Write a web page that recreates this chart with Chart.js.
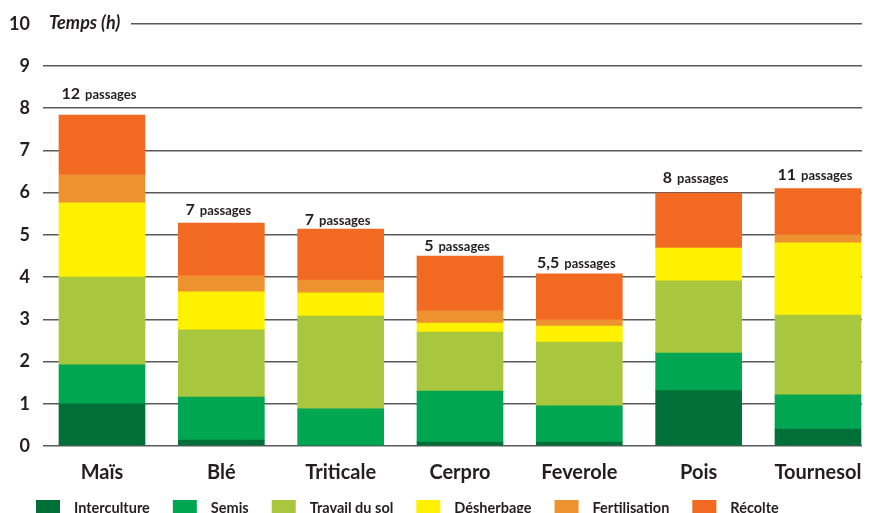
<!DOCTYPE html>
<html lang="fr">
<head>
<meta charset="utf-8">
<title>Temps de travail par culture</title>
<script src="https://cdn.jsdelivr.net/npm/chart.js@4.4.1/dist/chart.umd.min.js"></script>
<style>
  html, body { margin: 0; padding: 0; background: #ffffff; overflow: hidden; }
  #wrap { position: relative; width: 870px; height: 513px; }
</style>
</head>
<body>
<div id="wrap"><canvas id="chart" width="870" height="513"></canvas></div>
<script>
// Cultures (axe des abscisses)
const cultures = ['Maïs', 'Blé', 'Triticale', 'Cerpro', 'Feverole', 'Pois', 'Tournesol'];

// Temps par poste de travail (heures)
const interculture  = [1.00, 0.14, 0.00, 0.09, 0.09, 1.31, 0.40];
const semis         = [0.92, 1.02, 0.88, 1.21, 0.86, 0.89, 0.81];
const travailDuSol  = [2.08, 1.59, 2.20, 1.40, 1.51, 1.71, 1.89];
const desherbage    = [1.76, 0.90, 0.55, 0.21, 0.38, 0.78, 1.71];
const fertilisation = [0.66, 0.38, 0.30, 0.29, 0.15, 0.00, 0.19];
const recolte       = [1.42, 1.25, 1.21, 1.30, 1.09, 1.30, 1.10];

// Nombre de passages par culture
const passages = ['12', '7', '7', '5', '5,5', '8', '11'];

// Graduations de l'axe des temps
const yTicks = [0, 1, 2, 3, 4, 5, 6, 7, 8, 9, 10];

const series = [
  { label: 'Interculture',  values: interculture,  color: '#007038' },
  { label: 'Semis',         values: semis,         color: '#00a651' },
  { label: 'Travail du sol',values: travailDuSol,  color: '#a8c73f' },
  { label: 'Désherbage',    values: desherbage,    color: '#fff100' },
  { label: 'Fertilisation', values: fertilisation, color: '#ee922f' },
  { label: 'Récolte',       values: recolte,       color: '#f26922' }
];

const FONT = 'Lato, "Open Sans", "DejaVu Sans", sans-serif';
const TEXT = '#231f20';

// Écart vertical (px) entre le haut de chaque barre et son étiquette
const passageLabelGap = [16, 8, 4, 5, 6, 10, 8];

// Étiquettes « N passages » au-dessus de chaque barre
const passagesPlugin = {
  id: 'passages',
  afterDatasetsDraw(chart) {
    const ctx = chart.ctx;
    const topMeta = chart.getDatasetMeta(chart.data.datasets.length - 1);
    ctx.save();
    ctx.fillStyle = TEXT;
    ctx.textBaseline = 'alphabetic';
    ctx.textAlign = 'left';
    topMeta.data.forEach((bar, i) => {
      const num = passages[i];
      ctx.font = 'bold 16px ' + FONT;
      const wNum = ctx.measureText(num).width;
      ctx.font = 'bold 13px ' + FONT;
      const wTxt = ctx.measureText('passages').width;
      const gap = 5;
      const total = wNum + gap + wTxt;
      const x0 = bar.x - 3 - total / 2;
      const y = bar.y - passageLabelGap[i];
      ctx.font = 'bold 16px ' + FONT;
      ctx.fillText(num, x0, y);
      ctx.font = 'bold 13px ' + FONT;
      ctx.fillText('passages', x0 + wNum + gap, y);
    });
    ctx.restore();
  }
};

// Titre d'axe « Temps (h) » posé sur la ligne du haut, et légende en bas
const decorPlugin = {
  id: 'decor',
  afterDraw(chart) {
    const ctx = chart.ctx;
    const area = chart.chartArea;
    const yTop = chart.scales.y.getPixelForValue(10);
    ctx.save();
    ctx.fillStyle = '#ffffff';
    ctx.fillRect(area.left - 2, yTop - 4, 90, 8);
    ctx.fillStyle = TEXT;
    ctx.font = 'italic bold 18px ' + FONT;
    ctx.textBaseline = 'alphabetic';
    ctx.textAlign = 'left';
    ctx.fillText('Temps (h)', 49, yTop + 5);

    // Légende
    let x = 36;
    const boxTop = 500;
    ctx.font = 'bold 14.5px ' + FONT;
    chart.data.datasets.forEach(ds => {
      ctx.fillStyle = ds.backgroundColor;
      ctx.fillRect(x, boxTop, 24, 22);
      x += 24 + 14;
      ctx.fillStyle = TEXT;
      ctx.fillText(ds.label, x, 513);
      x += ctx.measureText(ds.label).width + 23;
    });
    ctx.restore();
  }
};

new Chart(document.getElementById('chart'), {
  type: 'bar',
  data: {
    datasets: series.map(s => ({
      label: s.label,
      data: s.values.map((v, i) => ({ x: i, y: v })),
      backgroundColor: s.color,
      borderWidth: 0,
      barThickness: 86
    }))
  },
  options: {
    responsive: false,
    animation: false,
    events: [],
    layout: { padding: { top: 23, right: 8, left: 0, bottom: 0 } },
    plugins: {
      legend: { display: false },
      tooltip: { enabled: false }
    },
    scales: {
      x: {
        type: 'linear',
        stacked: true,
        offset: false,
        bounds: 'data',
        min: -0.4944,
        max: 6.3688,
        grid: { display: false, drawTicks: false, offset: false },
        border: { display: false },
        afterBuildTicks: scale => {
          scale.ticks = cultures.map((_, i) => ({ value: i }));
        },
        afterFit: scale => {
          scale.height = 67;
          scale.paddingLeft = 0;
          scale.paddingRight = 0;
        },
        ticks: {
          autoSkip: false,
          maxRotation: 0,
          padding: 15,
          color: TEXT,
          font: { family: FONT, size: 20, weight: 'bold' },
          callback: v => cultures[v]
        }
      },
      y: {
        stacked: true,
        min: 0,
        max: 10,
        afterBuildTicks: scale => {
          scale.ticks = yTicks.map(v => ({ value: v }));
        },
        afterFit: scale => { scale.width = 43; },
        grid: { color: '#5a5a5a', lineWidth: 1.5, drawTicks: false },
        border: { display: false },
        ticks: {
          padding: 13,
          color: TEXT,
          font: { family: FONT, size: 18, weight: 'bold' }
        }
      }
    }
  },
  plugins: [passagesPlugin, decorPlugin]
});
</script>
</body>
</html>
